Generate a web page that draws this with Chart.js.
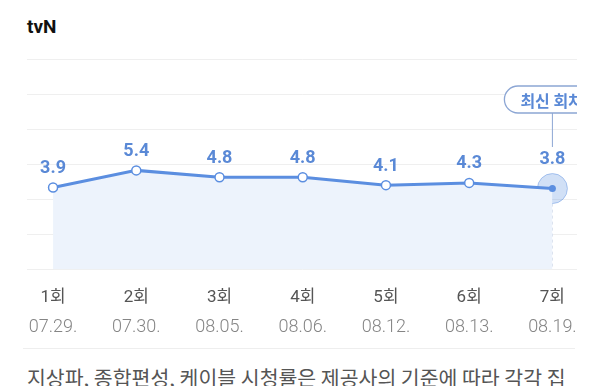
<!DOCTYPE html>
<html>
<head>
<meta charset="utf-8">
<script src="https://cdn.jsdelivr.net/npm/chart.js@4.4.0/dist/chart.umd.min.js"></script>
<style>
  body { margin: 0; background: #fff; width: 600px; height: 386px; overflow: hidden; position: relative; font-family: Roboto, "Noto Sans CJK KR", sans-serif; }
  #title { position: absolute; left: 27px; top: 15px; font: bold 19px Roboto, "Noto Sans CJK KR", sans-serif; color: #111; }
  #wrap { position: absolute; left: 0; top: 0; width: 577px; height: 345px; overflow: hidden; }
  #inner { position: relative; width: 583px; height: 345px; }
  #sep { position: absolute; left: 23px; top: 348px; width: 552px; height: 1px; background: #eeeeee; }
  #note { position: absolute; left: 27px; top: 362px; font-size: 20.5px; color: #555; white-space: nowrap; font-family: "Noto Sans CJK KR", sans-serif; }
</style>
</head>
<body>
<div id="title">tvN</div>
<div id="wrap"><div id="inner"><canvas id="myChart"></canvas></div></div>
<div id="sep"></div>
<div id="note">지상파, 종합편성, 케이블 시청률은 제공사의 기준에 따라 각각 집</div>
<script>
"use strict";

const episodes = ["1회", "2회", "3회", "4회", "5회", "6회", "7회"];
const dates = ["07.29.", "07.30.", "08.05.", "08.06.", "08.12.", "08.13.", "08.19."];
const ratings = [3.9, 5.4, 4.8, 4.8, 4.1, 4.3, 3.8];
const latestLabel = "최신 회차";

const blue = "#5b8ee0";
const labelBlue = "#5a89d6";
const last = ratings.length - 1;

// grid lines evenly spaced like the original
function gridTicks(scale) {
  let ticks = [];
  for (let i = 0; i <= 6; i++) {
    ticks.push({ value: scale.min + (i * (scale.max - scale.min)) / 6 });
  }
  scale.ticks = ticks;
}

function indexTicks(scale) {
  scale.ticks = episodes.map((e, i) => ({ value: i }));
}

const extras = {
  id: "extras",
  beforeDatasetsDraw(chart) {
    const ctx = chart.ctx;
    const p = chart.getDatasetMeta(0).data[last];
    ctx.save();
    // dashed line under latest point
    ctx.strokeStyle = "#d5deec";
    ctx.lineWidth = 1;
    ctx.setLineDash([3, 3]);
    ctx.beginPath();
    ctx.moveTo(p.x, p.y + 15);
    ctx.lineTo(p.x, chart.chartArea.bottom);
    ctx.stroke();
    ctx.setLineDash([]);
    // halo
    ctx.fillStyle = "rgba(91,142,224,0.28)";
    ctx.strokeStyle = "rgba(91,142,224,0.45)";
    ctx.beginPath();
    ctx.arc(p.x, p.y, 15, 0, Math.PI * 2);
    ctx.fill();
    ctx.stroke();
    ctx.restore();
  },
  afterDatasetsDraw(chart) {
    const ctx = chart.ctx;
    const pts = chart.getDatasetMeta(0).data;
    ctx.save();
    ctx.font = "bold 18px Roboto, sans-serif";
    ctx.fillStyle = labelBlue;
    ctx.textAlign = "center";
    ctx.textBaseline = "middle";
    pts.forEach((p, i) => {
      let off = i === last ? 29 : 19;
      ctx.fillText(ratings[i].toFixed(1), p.x, p.y - off);
    });

    // latest episode bubble
    const p = pts[last];
    ctx.strokeStyle = "#8ca6d4";
    ctx.lineWidth = 1;
    ctx.beginPath();
    ctx.moveTo(p.x, 113);
    ctx.lineTo(p.x, 147);
    ctx.stroke();

    let bx = p.x - 48, by = 86, bw = 110, bh = 27, r = 13.5;
    ctx.beginPath();
    ctx.moveTo(bx + r, by);
    ctx.lineTo(bx + bw - r, by);
    ctx.arc(bx + bw - r, by + r, r, -Math.PI / 2, Math.PI / 2);
    ctx.lineTo(bx + r, by + bh);
    ctx.arc(bx + r, by + r, r, Math.PI / 2, Math.PI * 1.5);
    ctx.closePath();
    ctx.fillStyle = "#fff";
    ctx.fill();
    ctx.lineWidth = 1.3;
    ctx.stroke();
    ctx.font = "bold 16px 'Noto Sans CJK KR', sans-serif";
    ctx.fillStyle = labelBlue;
    ctx.textAlign = "left";
    ctx.fillText(latestLabel, bx + 16, by + bh / 2 + 1);
    ctx.restore();
  },
  afterDraw(chart) {
    // second label row: air dates, in lighter grey
    const ctx = chart.ctx;
    const xs = chart.scales.x;
    ctx.save();
    ctx.font = "300 18px Roboto, sans-serif";
    ctx.fillStyle = "#858585";
    ctx.textAlign = "center";
    ctx.textBaseline = "middle";
    dates.forEach((d, i) => {
      ctx.fillText(d, xs.getPixelForValue(i), chart.chartArea.bottom + 58);
    });
    ctx.restore();
  },
};

new Chart(document.getElementById("myChart"), {
  type: "line",
  data: {
    datasets: [
      {
        data: ratings.map((v, i) => ({ x: i, y: v })),
        borderColor: blue,
        borderWidth: 3,
        backgroundColor: "#edf3fc",
        fill: "start",
        tension: 0,
        pointRadius: ratings.map((v, i) => (i === last ? 3.5 : 4.5)),
        pointBackgroundColor: ratings.map((v, i) => (i === last ? blue : "#fff")),
        pointBorderColor: blue,
        pointBorderWidth: ratings.map((v, i) => (i === last ? 0 : 1.5)),
      },
    ],
  },
  options: {
    responsive: true,
    maintainAspectRatio: false,
    animation: false,
    layout: { autoPadding: false, padding: { left: 27, right: 0, top: 59, bottom: 19 } },
    plugins: { legend: { display: false }, tooltip: { enabled: false } },
    scales: {
      x: {
        type: "linear",
        min: -0.313,
        max: 6.313,
        afterBuildTicks: indexTicks,
        grid: { display: false, drawTicks: false },
        border: { display: false },
        ticks: {
          padding: 18,
          color: "#555",
          font: { size: 17, family: "Roboto, 'Noto Sans CJK KR', sans-serif" },
          callback: (v) => episodes[v],
          maxRotation: 0,
        },
      },
      y: {
        min: -3.33,
        max: 15.2,
        afterBuildTicks: gridTicks,
        grid: { color: "#efefef", drawTicks: false },
        border: { display: false },
        ticks: { display: false },
      },
    },
  },
  plugins: [extras],
});
</script>
</body>
</html>
